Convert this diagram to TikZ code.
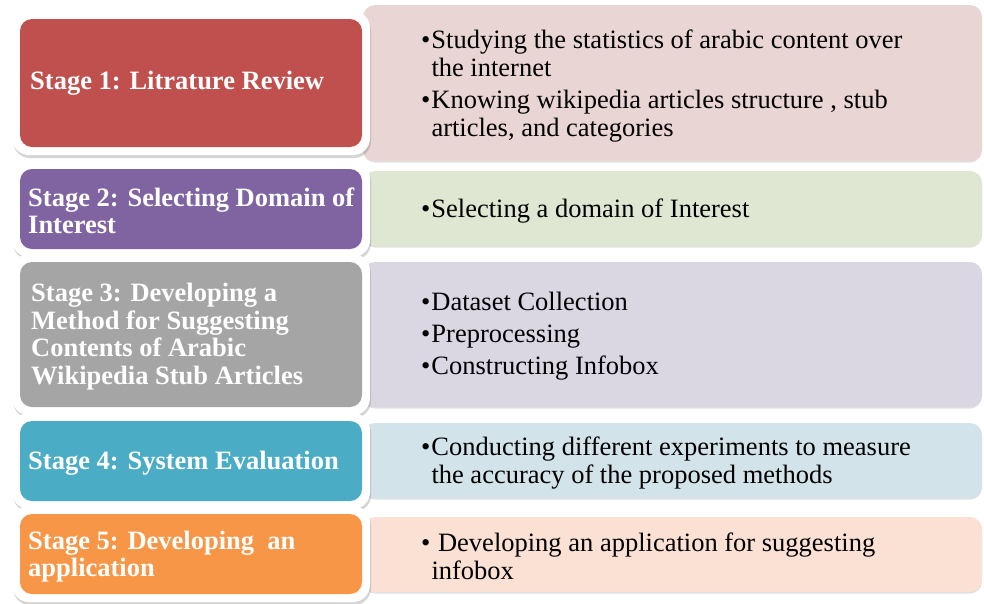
\documentclass[tikz,border=0pt]{standalone}
\usepackage{fontspec}
\setmainfont{Liberation Serif}
\usetikzlibrary{shadows}
\definecolor{sA}{HTML}{C0504D}
\definecolor{sB}{HTML}{8064A2}
\definecolor{sC}{HTML}{A5A5A5}
\definecolor{sD}{HTML}{4BACC6}
\definecolor{sE}{HTML}{F79646}
\definecolor{rA}{RGB}{233,213,212}
\definecolor{rB}{RGB}{223,231,211}
\definecolor{rC}{RGB}{218,215,227}
\definecolor{rD}{RGB}{211,227,234}
\definecolor{rE}{RGB}{251,224,212}
\newcommand{\bul}{\textbullet\hspace{1pt}}
\newcommand{\ind}{\hspace*{10.3pt}}
\begin{document}
\begin{tikzpicture}[x=1pt,y=-1pt,
  frame/.style={rectangle, rounded corners=17pt, fill=white, minimum width=358pt, inner sep=0pt,
    drop shadow={shadow xshift=1pt, shadow yshift=-3pt, opacity=0.3, fill=black!55}},
  stagebox/.style={rectangle, rounded corners=12pt, minimum width=342pt, inner sep=0pt},
  infobox/.style={rectangle, rounded corners=12pt, minimum width=619pt, inner sep=0pt,
    drop shadow={shadow xshift=0pt, shadow yshift=-1.5pt, opacity=0.12, fill=black}},
  stagetext/.style={anchor=west, align=left, text=white, inner sep=0pt,
    font=\bfseries\fontsize{26.5}{27.5}\selectfont},
  infotext/.style={anchor=west, align=left, text=black, inner sep=0pt,
    font=\fontsize{26.5}{28}\selectfont},
]
\useasboundingbox (0,0) rectangle (984,603);
% right info boxes
\node[infobox, fill=rA, minimum height=156pt] (r1) at (672.5,83) {};
\node[infobox, fill=rB, minimum height=75pt] (r2) at (672.5,208.5) {};
\node[infobox, fill=rC, minimum height=145pt] (r3) at (672.5,334.5) {};
\node[infobox, fill=rD, minimum height=75pt] (r4) at (672.5,460.5) {};
\node[infobox, fill=rE, minimum height=75pt] (r5) at (672.5,554.5) {};
% white frames
\node[frame, minimum height=144pt] (f1) at (191,83) {};
\node[frame, minimum height=96pt] (f2) at (191,209) {};
\node[frame, minimum height=161pt] (f3) at (191,334.5) {};
\node[frame, minimum height=96pt] (f4) at (191,461) {};
\node[frame, minimum height=96pt] (f5) at (191,554) {};
% coloured stage boxes
\node[stagebox, fill=sA, minimum height=128pt] (s1) at (191,83) {};
\node[stagebox, fill=sB, minimum height=80pt] (s2) at (191,209) {};
\node[stagebox, fill=sC, minimum height=145pt] (s3) at (191,334.5) {};
\node[stagebox, fill=sD, minimum height=80pt] (s4) at (191,461) {};
\node[stagebox, fill=sE, minimum height=80pt] (s5) at (191,554) {};
% stage texts
\node[stagetext] (t1) at (30,83.5) {Stage 1: Litrature Review};
\node[stagetext] (t2) at (28,211) {Stage 2: Selecting Domain of\\Interest};
\node[stagetext] (t3) at (31,336.5) {Stage 3: Developing a\\Method for Suggesting\\Contents of Arabic\\Wikipedia Stub Articles};
\node[stagetext] (t4) at (28,463.5) {Stage 4: System Evaluation};
\node[stagetext] (t5) at (28,556.5) {Stage 5: Developing\ \ an\\application};
% info texts
\node[infotext] (i1) at (421,86) {\bul Studying the statistics of arabic content over\\\ind the internet\\[4pt]\bul Knowing wikipedia articles structure , stub\\\ind articles, and categories};
\node[infotext] (i2) at (421,211) {\bul Selecting a domain of Interest};
\node[infotext] (i3) at (421,336) {\bul Dataset Collection\\[4pt]\bul Preprocessing\\[4pt]\bul Constructing Infobox};
\node[infotext] (i4) at (421,463) {\bul Conducting different experiments to measure\\\ind the accuracy of the proposed methods};
\node[infotext] (i5) at (421,556) {\bul\ Developing an application for suggesting\\\ind infobox};
\end{tikzpicture}
\end{document}
